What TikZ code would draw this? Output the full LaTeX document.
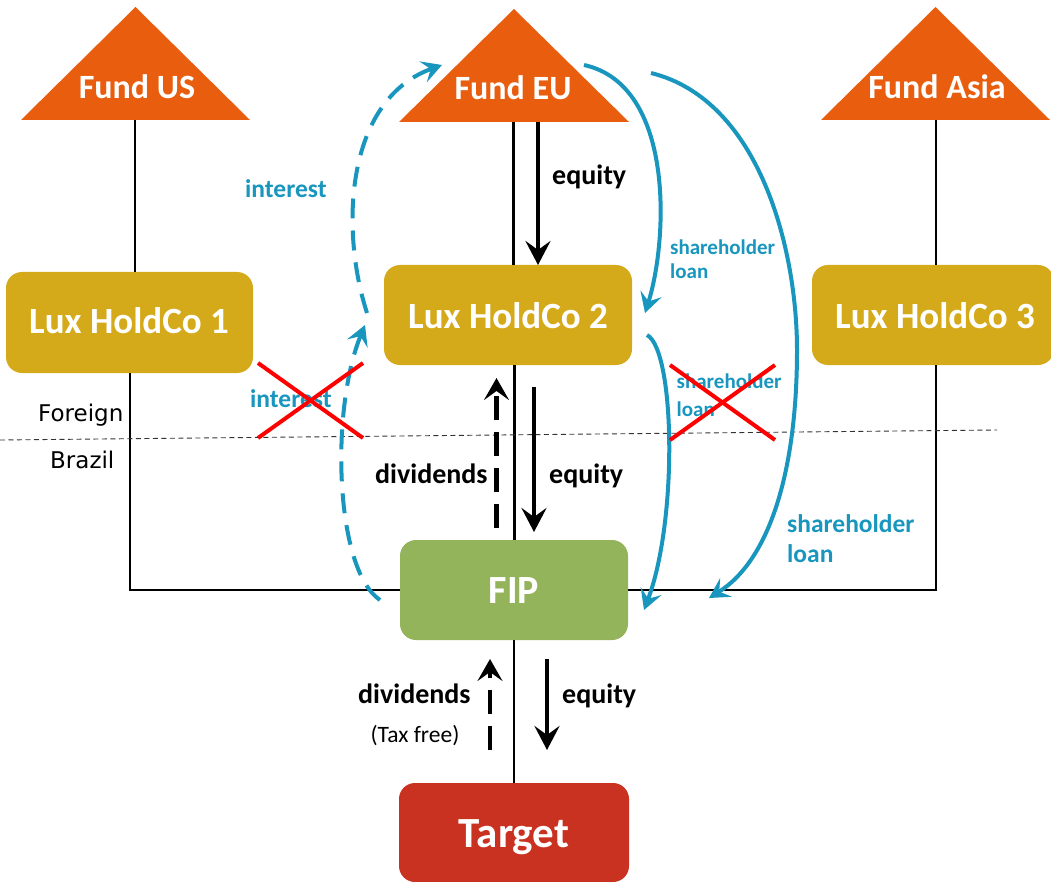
\documentclass[tikz,border=0pt]{standalone}
\usepackage{fontspec}
\setmainfont{Carlito}
\newfontfamily\regionfont{DejaVu Sans}
\usetikzlibrary{arrows.meta}

\definecolor{fundorange}{RGB}{232,94,14}
\definecolor{luxgold}{RGB}{212,170,26}
\definecolor{fipgreen}{RGB}{147,180,90}
\definecolor{targetred}{RGB}{201,50,32}
\definecolor{flowblue}{RGB}{24,150,190}
\definecolor{crossred}{RGB}{255,0,0}

\begin{document}
\begin{tikzpicture}[x=1pt,y=-1pt,
  entity/.style={rounded corners=16pt, inner sep=0pt, outer sep=0pt},
  entitytext/.style={text=white, font=\bfseries\fontsize{34}{40}\selectfont, anchor=base, inner sep=0pt},
  luxtext/.style={entitytext, font=\bfseries\fontsize{37}{44}\selectfont},
  bigtext/.style={entitytext, font=\bfseries\fontsize{40}{46}\selectfont},
  targettext/.style={entitytext, font=\bfseries\fontsize{43}{50}\selectfont},
  fundtri/.style={fill=fundorange},
  link/.style={draw=black, line width=2.8pt},
  equityarrow/.style={draw=black, line width=4pt, -{Stealth[length=24pt,width=25pt,inset=9pt]}},
  divarrow/.style={draw=black, line width=4.5pt, dash pattern=on 24pt off 12pt, -{Stealth[length=22pt,width=25pt,inset=9pt]}},
  loanarrow/.style={draw=flowblue, line width=4pt, -{Stealth[length=20pt,width=22pt,inset=8pt]}},
  interestarrow/.style={loanarrow, dash pattern=on 20pt off 12pt},
  flowlabel/.style={anchor=base west, inner sep=0pt, text=black, font=\bfseries\fontsize{28}{33}\selectfont},
  bluelabel/.style={anchor=base west, inner sep=0pt, text=flowblue, font=\bfseries\fontsize{21}{25}\selectfont},
  interestlabel/.style={bluelabel, font=\bfseries\fontsize{25.5}{30}\selectfont},
  bluelabelbig/.style={bluelabel, font=\bfseries\fontsize{25.5}{30}\selectfont},
  regionlabel/.style={anchor=base west, inner sep=0pt, font=\regionfont\fontsize{23}{27}\selectfont},
  cross/.style={draw=crossred, line width=4pt},
  border/.style={draw=black!80, line width=0.9pt, dash pattern=on 5pt off 3.5pt}]

\useasboundingbox (0,0) rectangle (1051,882);

% ---- funds (triangles) ----
\fill[fundtri] (21,120) -- (135.5,7) -- (250,120) -- cycle;
\fill[fundtri] (399,122) -- (514,9) -- (629,122) -- cycle;
\fill[fundtri] (821,120) -- (935.5,7) -- (1050,120) -- cycle;
\node[entitytext] (fundUS) at (137,99) {Fund US};
\node[entitytext] (fundEU) at (513,100) {Fund EU};
\node[entitytext] (fundAsia) at (937,99) {Fund Asia};
\coordinate (fundUSbase) at (135,120);
\coordinate (fundEUbase) at (513.5,122);
\coordinate (fundEUbaseR) at (538,122);
\coordinate (fundAsiabase) at (936,120);

% ---- boxes ----
\node[entity, fill=luxgold, minimum width=247pt, minimum height=101pt] (lux1) at (129.5,322.5) {};
\node[entity, fill=luxgold, minimum width=248pt, minimum height=100pt] (lux2) at (508,315) {};
\node[entity, fill=luxgold, minimum width=242pt, minimum height=100pt] (lux3) at (933,315) {};
\node[entity, fill=fipgreen, minimum width=228pt, minimum height=100pt] (fip) at (514,590) {};
\node[entity, fill=targetred, minimum width=230pt, minimum height=99pt] (target) at (514,832.5) {};

\node[luxtext] at (129,333) {Lux HoldCo 1};
\node[luxtext] at (508,328) {Lux HoldCo 2};
\node[luxtext] at (935,328) {Lux HoldCo 3};
\node[bigtext] at (514,603) {FIP};
\node[targettext] at (514,847) {Target};

% ---- ownership lines ----
\draw[link] (fundUSbase) -- (fundUSbase |- lux1.north);
\draw[link] (fundEUbase) -- (fundEUbase |- lux2.north);
\draw[link] (fundAsiabase) -- (fundAsiabase |- lux3.north);
\coordinate (lux1foot) at (130,590);
\coordinate (lux3foot) at (936,590);
\draw[link] (lux1foot |- lux1.south) -- (lux1foot) -- (fip.west |- lux1foot);
\draw[link] (lux3foot |- lux3.south) -- (lux3foot) -- (fip.east |- lux3foot);
\draw[link] (514.3,365) -- (514.3,540);
\draw[link] (fip.south) -- (target.north);

% ---- Foreign / Brazil border ----
\coordinate (borderL) at (0,440);
\coordinate (borderR) at (997,430);
\draw[border] (borderL) -- (borderR);
\node[regionlabel] (foreign) at (38,421.5) {Foreign};
\node[regionlabel] (brazil) at (50,468) {Brazil};

% ---- equity and dividend flows ----
\draw[equityarrow] (fundEUbaseR) -- (538,265);
\node[flowlabel] (eq1) at (552,185) {equity};

\draw[equityarrow] (534,387) -- (534,532);
\node[flowlabel] (eq2) at (549,483) {equity};
\draw[divarrow] (496.5,528) -- (496.5,378);
\node[flowlabel] (div1) at (375,483) {dividends};

\draw[equityarrow] (547,659) -- (547,750);
\node[flowlabel] (eq3) at (562,703) {equity};
\draw[divarrow] (490,750) -- (490,659);
\node[flowlabel] (div2) at (358,703) {dividends};
\node[anchor=base, inner sep=0pt, font=\fontsize{23.5}{28}\selectfont] (taxfree) at (415,742) {(Tax free)};

% ---- interest flows ----
\coordinate (intA) at (380,600);
\coordinate (intB) at (365,325);
\coordinate (intC) at (367,313);
\coordinate (intD) at (442,65);
\draw[interestarrow] (intA) .. controls (335,570) and (330,410) .. (intB);
\draw[interestarrow] (intC) .. controls (340,230) and (345,100) .. (intD);
\node[interestlabel] (int1) at (245,198) {interest};
\node[interestlabel] (int2) at (250,407) {interest};

% ---- shareholder loans ----
\coordinate (slA) at (584,65);
\coordinate (slB) at (645,313);
\draw[loanarrow] (slA) .. controls (675,85) and (668,240) .. (slB);
\node[bluelabel] (sl1a) at (670,255) {shareholder};
\node[bluelabel] (sl1b) at (670,279) {loan};

\coordinate (slC) at (647,335);
\coordinate (slD) at (644,610);
\draw[loanarrow] (slC) .. controls (675,350) and (678,520) .. (slD);
\node[bluelabel] (sl2a) at (676.5,388) {shareholder};
\node[bluelabel] (sl2b) at (676.5,416.5) {loan};

\coordinate (slE) at (651,73);
\coordinate (slF) at (797,350);
\coordinate (slG) at (709,598);
\draw[loanarrow] (slE) .. controls (760,100) and (797,250) .. (slF)
  .. controls (797,470) and (770,560) .. (slG);
\node[bluelabelbig] (sl3a) at (787,532) {shareholder};
\node[bluelabelbig] (sl3b) at (787,562) {loan};

% ---- blocked flows ----
\draw[cross] (258,363) -- (363,438);
\draw[cross] (258,438) -- (363,363);
\draw[cross] (670,365) -- (775,440);
\draw[cross] (670,440) -- (775,365);

\end{tikzpicture}
\end{document}
